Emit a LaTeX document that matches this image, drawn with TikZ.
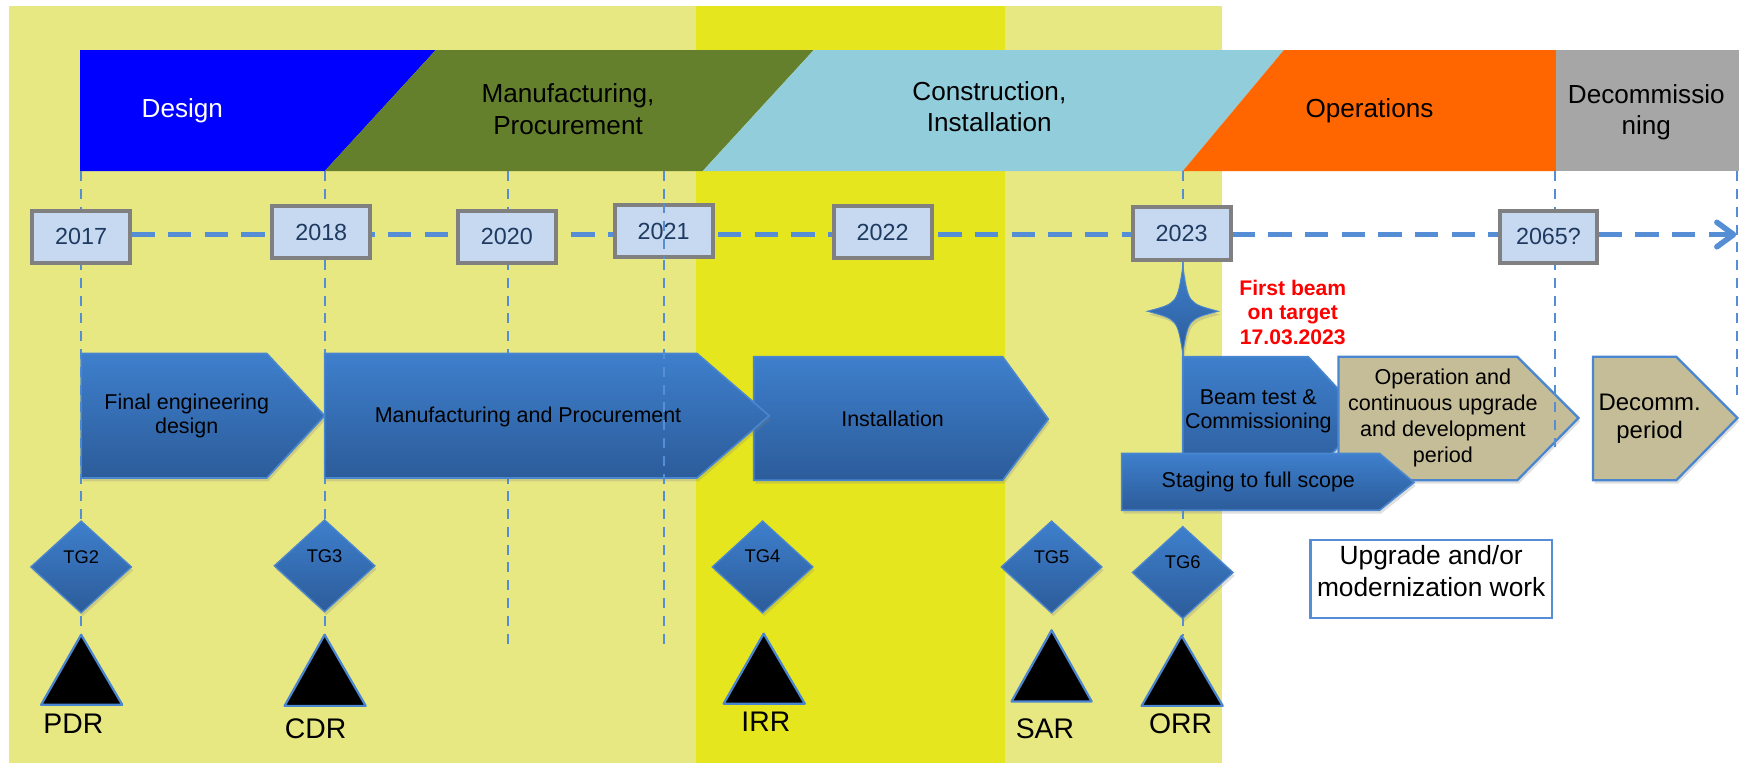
\documentclass[tikz,border=0pt]{standalone}
\usepackage{fontspec}
\setmainfont{Liberation Sans}
\usetikzlibrary{arrows.meta,shapes.geometric,shadows}
\definecolor{bgpale}{HTML}{E8E882}
\definecolor{bgbright}{HTML}{E6E61E}
\definecolor{phdesign}{HTML}{0000FF}
\definecolor{phmanuf}{HTML}{64802D}
\definecolor{phconstr}{HTML}{92CDDC}
\definecolor{phops}{HTML}{FF6600}
\definecolor{phdecom}{HTML}{A6A6A6}
\definecolor{yrfill}{HTML}{C6D9F1}
\definecolor{yrborder}{HTML}{808080}
\definecolor{yrtext}{HTML}{1F3A60}
\definecolor{dashblue}{HTML}{558ED5}
\definecolor{chtop}{HTML}{3E7FCC}
\definecolor{chbot}{HTML}{2C5C9A}
\definecolor{chedge}{HTML}{4A86CF}
\definecolor{tanfill}{HTML}{C4BD97}
\definecolor{beamred}{HTML}{FF0000}
\tikzset{
  softshadow/.style={drop shadow={opacity=0.25, shadow xshift=1.5pt, shadow yshift=-3pt}},
  yearbox/.style={draw=yrborder, line width=3.6pt, fill=yrfill, minimum width=88pt, minimum height=47pt, inner sep=0pt, text=yrtext, font=\fontsize{21}{24}\selectfont},
  vdash/.style={draw=dashblue, line width=1.8pt, dash pattern=on 9pt off 7pt},
  timeline/.style={draw=dashblue, line width=5pt, dash pattern=on 21pt off 12pt},
  bluechev/.style={softshadow, top color=chtop, bottom color=chbot, draw=chedge, line width=1.5pt},
  tanchev/.style={softshadow, fill=tanfill, draw=chedge, line width=2pt},
  gate/.style={softshadow, diamond, minimum width=91pt, minimum height=83pt, inner sep=0pt, top color=chtop, bottom color=chbot, draw=chedge, line width=1.2pt},
  review/.style={fill=black, draw=chedge, line width=2pt, line join=round},
  phasetext/.style={font=\fontsize{23.5}{28.5}\selectfont, align=center, inner sep=0pt},
  chevtext/.style={font=\fontsize{19.3}{22}\selectfont, align=center, inner sep=0pt},
  gatetext/.style={font=\fontsize{16.5}{18}\selectfont, inner sep=0pt},
  reviewtext/.style={font=\fontsize{25.5}{28}\selectfont, anchor=base, inner sep=0pt},
}
\begin{document}
\begin{tikzpicture}[x=1pt,y=-1pt]
\useasboundingbox (0,0) rectangle (1568,688);
% backgrounds
\fill[bgpale] (8,5) rectangle (1099,686);
\fill[bgbright] (626,5) rectangle (904,686);
% phase bar
\fill[phdesign] (72,45) -- (392,45) -- (292,154) -- (72,154) -- cycle;
\fill[phmanuf] (292,154) -- (392,45) -- (732,45) -- (632,154) -- cycle;
\fill[phconstr] (632,154) -- (732,45) -- (1155,45) -- (1064,154) -- cycle;
\fill[phops] (1064,154) -- (1155,45) -- (1400,45) -- (1400,154) -- cycle;
\fill[phdecom] (1400,45) rectangle (1564,154);
\node[phasetext, text=white] (lbldesign) at (164,100) {Design};
\node[phasetext] (lblmanuf) at (511,98) {Manufacturing,\\Procurement};
\node[phasetext] (lblconstr) at (890,96) {Construction,\\Installation};
\node[phasetext] (lblops) at (1232,100) {Operations};
\node[phasetext] (lbldecom) at (1481,101) {Decommissio\\ning};
% vertical dashed lines
\coordinate (va1) at (73,154);   \coordinate (vb1) at (73,571);
\coordinate (va2) at (292,154);  \coordinate (vb2) at (292,571);
\coordinate (va3) at (457,154);  \coordinate (vb3) at (457,583);
\coordinate (va4) at (597,154);  \coordinate (vb4) at (597,583);
\coordinate (va5) at (1064,154); \coordinate (vb5) at (1064,572);
\coordinate (va6) at (1399,154); \coordinate (vb6) at (1399,402);
\coordinate (va7) at (1563,154); \coordinate (vb7) at (1563,360);
\draw[vdash] (va1) -- (vb1);
\draw[vdash] (va2) -- (vb2);
\draw[vdash] (va3) -- (vb3);
\draw[vdash] (va5) -- (vb5);
% timeline
\coordinate (tlstart) at (118,211);
\coordinate (tlend) at (1562,211);
\draw[timeline, -{Straight Barb[length=15pt,width=22pt,round]}] (tlstart) -- (tlend);
% chevrons
\path[bluechev] (73,318) -- (240,318) -- (292,374) -- (240,430) -- (73,430) -- cycle;
\node[chevtext] (finaleng) at (168,374) {Final engineering\\design};
\path[bluechev] (678,321) -- (902,321) -- (943,377) -- (902,432) -- (678,432) -- cycle;
\node[chevtext] (install) at (803,377) {Installation};
\path[bluechev] (292,318) -- (627,318) -- (692,374) -- (627,430) -- (292,430) -- cycle;
\node[chevtext] (manproc) at (475,375) {Manufacturing and Procurement};
\path[bluechev] (1064,321) -- (1177,321) -- (1228,376) -- (1177,431) -- (1064,431) -- cycle;
\node[chevtext] (beamtest) at (1132,370) {Beam test \&\\Commissioning};
\path[tanchev] (1204,321) -- (1365,321) -- (1420,376) -- (1365,432) -- (1204,432) -- cycle;
\node[chevtext, font=\fontsize{19.4}{23.3}\selectfont] (operation) at (1298,376) {Operation and\\continuous upgrade\\and development\\period};
\path[tanchev] (1433,321) -- (1508,321) -- (1563,376) -- (1508,432) -- (1433,432) -- cycle;
\node[chevtext, font=\fontsize{21.5}{25.5}\selectfont] (decomm) at (1484,377) {Decomm.\\period};
\path[bluechev] (1009,408) -- (1241,408) -- (1272,434) -- (1241,459) -- (1009,459) -- cycle;
\node[chevtext] (staging) at (1132,434) {Staging to full scope};
% dashed lines on top
\draw[vdash] (va4) -- (vb4);
\draw[vdash] (va6) -- (vb6);
\draw[vdash] (va7) -- (vb7);
% year boxes
\node[yearbox] (y2017) at (73,213) {2017};
\node[yearbox] (y2018) at (289,209) {2018};
\node[yearbox] (y2020) at (456,213) {2020};
\node[yearbox] (y2021) at (597,208) {2021};
\node[yearbox] (y2022) at (794,209) {2022};
\node[yearbox] (y2023) at (1063,210) {2023};
\node[yearbox] (y2065) at (1393,213) {2065?};
\draw[vdash] (y2021.north) -- (y2021.south);
% star
\path[softshadow, top color=chtop, bottom color=chbot, draw=chedge, line width=0.8pt]
  (1064,240) .. controls (1069,273) .. (1096,280)
  .. controls (1069,287) .. (1064,318)
  .. controls (1059,287) .. (1032,280)
  .. controls (1059,273) .. (1064,240) -- cycle;
\node[text=beamred, font=\bfseries\fontsize{19}{22}\selectfont, align=center, inner sep=0pt] (firstbeam) at (1163,281) {First beam\\on target\\17.03.2023};
% gates
\node[gate] (tg2) at (73,510) {};
\node[gate] (tg3) at (292,509) {};
\node[gate] (tg4) at (686,510) {};
\node[gate] (tg5) at (946,510) {};
\node[gate] (tg6) at (1064,515) {};
\node[gatetext] (tg2l) at (73,501) {TG2};
\node[gatetext] (tg3l) at (292,500) {TG3};
\node[gatetext] (tg4l) at (686,500) {TG4};
\node[gatetext] (tg5l) at (946,501) {TG5};
\node[gatetext] (tg6l) at (1064,506) {TG6};
% reviews
\path[review] (73,571) -- (110,634) -- (37,634) -- cycle;
\path[review] (292,571) -- (329,635) -- (256,635) -- cycle;
\path[review] (687,570) -- (724,633) -- (651,633) -- cycle;
\path[review] (946,567) -- (982,631) -- (910,631) -- cycle;
\path[review] (1063,572) -- (1100,635) -- (1027,635) -- cycle;
\node[reviewtext] (pdr) at (66,660) {PDR};
\node[reviewtext] (cdr) at (284,664) {CDR};
\node[reviewtext] (irr) at (689,658) {IRR};
\node[reviewtext] (sar) at (940,664) {SAR};
\node[reviewtext] (orr) at (1062,660) {ORR};
% upgrade box
\node[draw=dashblue, line width=2pt, fill=white, minimum width=217pt, minimum height=70pt, inner sep=0pt] (upgradebox) at (1287.5,521) {};
\node[font=\fontsize{23.7}{28.8}\selectfont, align=center, inner sep=0pt] (upgradetxt) at (1287.5,514) {Upgrade and/or\\modernization work};
\end{tikzpicture}
\end{document}
